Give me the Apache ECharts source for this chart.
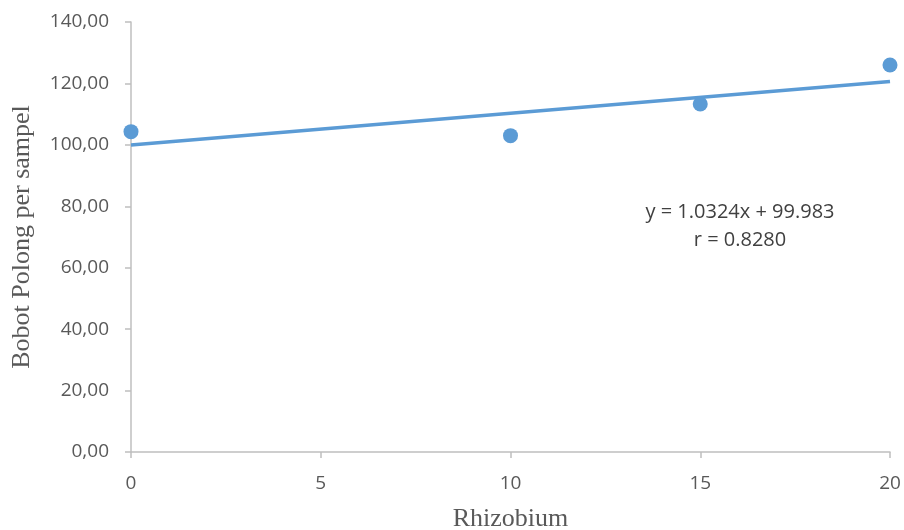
<!DOCTYPE html>
<html>
<head>
    <meta charset="utf-8" />
    <title></title>
    <script type="text/javascript" src="https://cdn.jsdelivr.net/npm/echarts@6/dist/echarts.min.js"></script>
    <style>
        html, body { margin: 0; padding: 0; background: #fff; }
        #main { width: 904px; height: 530px; }
    </style>
</head>
<body>
    <div id="main"></div>
    <script type="text/javascript">
        var dosis = [0, 10, 15, 20];            // Rhizobium
        var bobot = [104.3, 103.0, 113.3, 126.0]; // Bobot Polong per sampel
        var trendX = [0, 20];
        var trendY = [99.98, 120.63];
        var persamaan = ['y = 1.0324x + 99.983', 'r = 0.8280'];

        var titik = dosis.map(function (x, i) { return [x, bobot[i]]; });
        var garis = trendX.map(function (x, i) { return [x, trendY[i]]; });

        var myChart = echarts.init(document.getElementById('main'));
        var option = {
            backgroundColor: '#ffffff',
            animation: false,
            grid: { left: 131, right: 14, top: 22, bottom: 78, outerBoundsMode: 'none', containLabel: false },
            xAxis: {
                type: 'value',
                min: 0, max: 20, interval: 5,
                name: 'Rhizobium',
                nameLocation: 'middle',
                nameGap: 54,
                nameTextStyle: { fontFamily: 'Liberation Serif', fontSize: 26, color: '#595959' },
                axisLine: { lineStyle: { color: '#bfbfbf', width: 1.5 } },
                axisTick: { show: true, length: 6, lineStyle: { color: '#bfbfbf', width: 1.5 } },
                axisLabel: { margin: 22, fontFamily: 'Open Sans', fontSize: 19, color: '#595959' },
                splitLine: { show: false }
            },
            yAxis: {
                type: 'value',
                min: 0, max: 140, interval: 20,
                name: 'Bobot Polong per sampel',
                nameLocation: 'middle',
                nameGap: 96,
                nameTextStyle: { fontFamily: 'Liberation Serif', fontSize: 26, color: '#595959' },
                axisLine: { show: true, lineStyle: { color: '#bfbfbf', width: 1.5 } },
                axisTick: { show: true, length: 6, lineStyle: { color: '#bfbfbf', width: 1.5 } },
                axisLabel: {
                    margin: 22, fontFamily: 'Open Sans', fontSize: 19, color: '#595959',
                    formatter: function (v) { return v.toFixed(2).replace('.', ','); }
                },
                splitLine: { show: false }
            },
            series: [{
                type: 'line',
                data: garis,
                symbol: 'none',
                lineStyle: { color: '#5b9bd5', width: 3.5 },
                z: 2
            }, {
                type: 'scatter',
                data: titik,
                symbol: 'circle',
                symbolSize: 15,
                itemStyle: { color: '#5b9bd5', opacity: 1 },
                z: 3
            }],
            graphic: [{
                type: 'text',
                x: 740, y: 198,
                style: {
                    text: persamaan.join('\n'),
                    fontFamily: 'Open Sans', fontSize: 20, lineHeight: 28,
                    fill: '#404040', align: 'center'
                }
            }]
        };
        option && myChart.setOption(option);
    </script>
</body>
</html>
